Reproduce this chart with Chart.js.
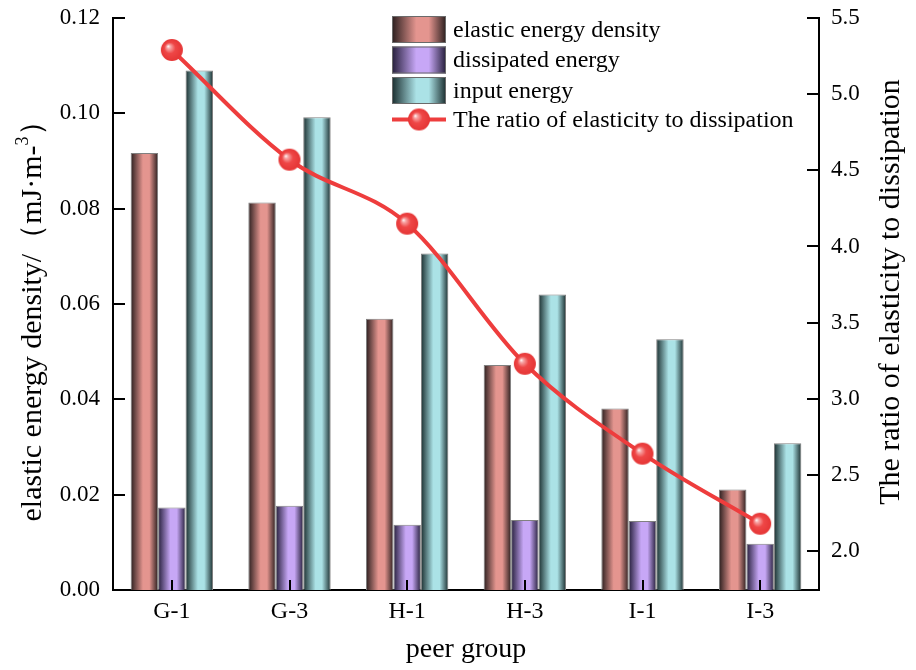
<!DOCTYPE html>
<html>
<head>
<meta charset="utf-8">
<script src="https://cdn.jsdelivr.net/npm/chart.js@4"></script>
<style>
	html, body { margin: 0; padding: 0; background: #fff; }
	#wrap { width: 916px; height: 670px; }
</style>
</head>
<body>
<div id="wrap"><canvas id="chart" width="916" height="670"></canvas></div>
<script>
// data
var groups = ['G-1', 'G-3', 'H-1', 'H-3', 'I-1', 'I-3'];
var elasticEnergy = [0.0917, 0.0813, 0.0569, 0.0472, 0.0381, 0.0211];
var dissipatedEnergy = [0.0173, 0.0177, 0.0137, 0.0147, 0.0145, 0.0097];
var inputEnergy = [0.1090, 0.0992, 0.0706, 0.0620, 0.0526, 0.0308];
var ratio = [5.29, 4.57, 4.15, 3.23, 2.64, 2.18];
var leftTicks = [0, 0.02, 0.04, 0.06, 0.08, 0.10, 0.12];
var rightTicks = [2.0, 2.5, 3.0, 3.5, 4.0, 4.5, 5.0, 5.5];

var FONT = "'Liberation Serif', 'Times New Roman', serif";
var RED = '#ee3d3d';

// light centre / dark edge for each bar series
var barShades = [
	{ light: '#e4958f', dark: '#2a1e1e' },
	{ light: '#c7a7f6', dark: '#251e3a' },
	{ light: '#abe2e6', dark: '#1a2d2e' }
];

function shadeGradient(ctx, x0, x1, shade) {
	var g = ctx.createLinearGradient(x0, 0, x1, 0);
	g.addColorStop(0, shade.dark);
	g.addColorStop(0.45, shade.light);
	g.addColorStop(0.68, shade.light);
	g.addColorStop(1, shade.dark);
	return g;
}

// shiny red ball used as the point marker
function makeBall(r) {
	var c = document.createElement('canvas');
	c.width = c.height = r * 2 + 2;
	var g = c.getContext('2d');
	var cx = r + 1, cy = r + 1;
	var grad = g.createRadialGradient(cx - r * 0.35, cy - r * 0.35, 0, cx, cy, r);
	grad.addColorStop(0, '#ffffff');
	grad.addColorStop(0.18, '#f7a4a4');
	grad.addColorStop(0.5, '#ef4747');
	grad.addColorStop(1, '#e53535');
	g.fillStyle = grad;
	g.beginPath();
	g.arc(cx, cy, r, 0, Math.PI * 2);
	g.fill();
	return c;
}
var ball = makeBall(11);

var gradientBars = {
	id: 'gradientBars',
	beforeDatasetsDraw: function(chart) {
		var ctx = chart.ctx;
		for (var i = 0; i < 3; i++) {
			var meta = chart.getDatasetMeta(i);
			meta.data.forEach(function(bar) {
				var half = bar.width / 2;
				bar.options = Object.assign({}, bar.options, {
					backgroundColor: shadeGradient(ctx, bar.x - half, bar.x + half, barShades[i])
				});
			});
		}
	}
};

// ticks point into the plot, so they are drawn here
var innerTicks = {
	id: 'innerTicks',
	afterDraw: function(chart) {
		var ctx = chart.ctx, a = chart.chartArea;
		ctx.save();
		ctx.strokeStyle = '#000';
		ctx.lineWidth = 2;
		ctx.beginPath();
		chart.scales.y.ticks.forEach(function(t) {
			var y = Math.round(chart.scales.y.getPixelForValue(t.value));
			ctx.moveTo(a.left, y); ctx.lineTo(a.left + 12, y);
		});
		chart.scales.y1.ticks.forEach(function(t) {
			var y = Math.round(chart.scales.y1.getPixelForValue(t.value));
			ctx.moveTo(a.right, y); ctx.lineTo(a.right - 12, y);
		});
		groups.forEach(function(g, i) {
			var x = Math.round(chart.scales.x.getPixelForValue(i));
			ctx.moveTo(x, a.bottom); ctx.lineTo(x, a.bottom - 10);
		});
		ctx.stroke();
		ctx.restore();
	}
};

// vertical titles (left one has a superscript, right one reads upwards)
var sideTitles = {
	id: 'sideTitles',
	afterDraw: function(chart) {
		var ctx = chart.ctx;
		ctx.save();
		ctx.fillStyle = '#000';
		ctx.textBaseline = 'middle';

		var main = 'elastic energy density/（mJ·m-', sup = '3', tail = '）';
		ctx.font = '30px ' + FONT;
		var w1 = ctx.measureText(main).width, w3 = ctx.measureText(tail).width;
		ctx.font = '18px ' + FONT;
		var w2 = ctx.measureText(sup).width;
		var total = w1 + w2 + w3;
		ctx.translate(33, 314);
		ctx.rotate(-Math.PI / 2);
		var x = -total / 2;
		ctx.textAlign = 'left';
		ctx.font = '30px ' + FONT;
		ctx.fillText(main, x, 0);
		ctx.font = '18px ' + FONT;
		ctx.fillText(sup, x + w1, -10);
		ctx.font = '30px ' + FONT;
		ctx.fillText(tail, x + w1 + w2, 0);
		ctx.restore();

		ctx.save();
		ctx.fillStyle = '#000';
		ctx.textBaseline = 'middle';
		ctx.textAlign = 'center';
		ctx.font = '30px ' + FONT;
		ctx.translate(891, 292);
		ctx.rotate(-Math.PI / 2);
		ctx.fillText('The ratio of elasticity to dissipation', 0, 0);
		ctx.restore();
	}
};

var boxLegend = {
	id: 'boxLegend',
	afterDraw: function(chart) {
		var ctx = chart.ctx;
		var labels = chart.data.datasets.map(function(d) { return d.label; });
		var x0 = 392, sw = 54, sh = 27, rowH = 30.5, top = 16;
		ctx.save();
		ctx.font = '24px ' + FONT;
		ctx.textBaseline = 'middle';
		ctx.textAlign = 'left';
		for (var i = 0; i < 3; i++) {
			var y = top + i * rowH;
			ctx.fillStyle = shadeGradient(ctx, x0, x0 + sw, barShades[i]);
			ctx.fillRect(x0, y, sw, sh);
			ctx.strokeStyle = '#6a6a6a';
			ctx.lineWidth = 1;
			ctx.strokeRect(x0 + 0.5, y + 0.5, sw - 1, sh - 1);
			ctx.fillStyle = '#000';
			ctx.fillText(labels[i], 453, y + sh / 2 + 1);
		}
		var ly = top + 3 * rowH + 12;
		ctx.strokeStyle = RED;
		ctx.lineWidth = 4;
		ctx.beginPath();
		ctx.moveTo(x0, ly); ctx.lineTo(x0 + sw, ly);
		ctx.stroke();
		ctx.drawImage(ball, x0 + sw / 2 - ball.width / 2, ly - ball.height / 2);
		ctx.fillStyle = '#000';
		ctx.fillText(labels[3], 453, ly + 1);
		ctx.restore();
	}
};

function barSet(label, data) {
	return {
		type: 'bar',
		label: label,
		data: data,
		yAxisID: 'y',
		backgroundColor: '#999',
		borderColor: '#808080',
		borderWidth: 1,
		categoryPercentage: 0.7,
		barPercentage: 1.0,
		order: 2
	};
}

// keep the plot edges where the reference has them
function noPad(s) {
	s.paddingTop = 0;
	s.paddingBottom = 0;
}

new Chart(document.getElementById('chart'), {
	data: {
		labels: groups,
		datasets: [
			barSet('elastic energy density', elasticEnergy),
			barSet('dissipated energy', dissipatedEnergy),
			barSet('input energy', inputEnergy),
			{
				type: 'line',
				label: 'The ratio of elasticity to dissipation',
				data: ratio,
				yAxisID: 'y1',
				borderColor: RED,
				borderWidth: 4,
				cubicInterpolationMode: 'monotone',
				pointStyle: ball,
				pointRadius: 11,
				order: 1
			}
		]
	},
	options: {
		responsive: false,
		animation: false,
		layout: { padding: { top: 18, left: 0, right: 0, bottom: 0 } },
		plugins: {
			legend: { display: false },
			tooltip: { enabled: false }
		},
		scales: {
			x: {
				grid: { display: false, drawTicks: false },
				border: { display: true, color: '#000', width: 2 },
				ticks: { color: '#000', padding: 7, font: { family: FONT, size: 24 } },
				title: {
					display: true, text: 'peer group', color: '#000',
					font: { family: FONT, size: 28 }, padding: { top: 0, bottom: 4 }
				},
				afterFit: function(s) { s.height = 80; s.paddingLeft = 0; s.paddingRight = 0; }
			},
			y: {
				position: 'left',
				min: 0, max: 0.12,
				grid: { display: false, drawTicks: false },
				border: { display: true, color: '#000', width: 2 },
				afterBuildTicks: function(s) { s.ticks = leftTicks.map(function(v) { return { value: v }; }); },
				ticks: {
					color: '#000', padding: 13, font: { family: FONT, size: 23 },
					callback: function(v) { return v.toFixed(2); }
				},
				afterFit: function(s) { s.width = 113; noPad(s); }
			},
			y1: {
				position: 'right',
				min: 1.745, max: 5.5,
				grid: { display: false, drawTicks: false },
				border: { display: true, color: '#000', width: 2 },
				afterBuildTicks: function(s) { s.ticks = rightTicks.map(function(v) { return { value: v }; }); },
				ticks: {
					color: '#000', padding: 12, font: { family: FONT, size: 23 },
					callback: function(v) { return v.toFixed(1); }
				},
				afterFit: function(s) { s.width = 97; noPad(s); }
			}
		}
	},
	plugins: [gradientBars, innerTicks, sideTitles, boxLegend]
});
</script>
</body>
</html>
